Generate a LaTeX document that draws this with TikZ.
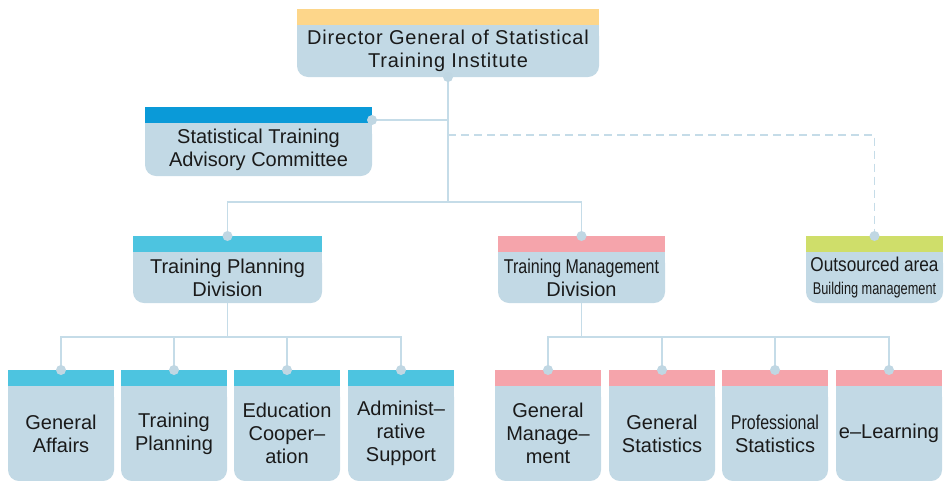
\documentclass[tikz,border=0pt]{standalone}
\usepackage{fontspec}
\setmainfont{Liberation Sans}
\newfontfamily\narrowfont[FakeStretch=0.8]{Liberation Sans}
\newfontfamily\outfont[FakeStretch=0.86]{Liberation Sans}
\newfontfamily\bldfont[FakeStretch=0.75]{Liberation Sans}
\newfontfamily\widefont[LetterSpace=4.0]{Liberation Sans}
\definecolor{bodyc}{HTML}{C2D9E5}
\definecolor{linec}{HTML}{C5DCE8}
\definecolor{dotc}{HTML}{C0D7E3}
\definecolor{yelbar}{HTML}{FDD68A}
\definecolor{bluebar}{HTML}{0A9AD8}
\definecolor{cyanbar}{HTML}{4DC4E0}
\definecolor{pinkbar}{HTML}{F5A4AB}
\definecolor{greenbar}{HTML}{CFDE6A}
\definecolor{txt}{HTML}{1A1A1A}
\tikzset{
  box/.style={rectangle, inner sep=0pt, outer sep=0pt, fill=white, align=center,
    text=txt, font=\fontsize{20}{23}\selectfont,
    path picture={
      \fill[bodyc, rounded corners=11pt] (path picture bounding box.north west) rectangle (path picture bounding box.south east);
      \fill[bodyc] (path picture bounding box.north west) rectangle (path picture bounding box.east);
    }},
  barbox/.style={rectangle, inner sep=0pt, outer sep=0pt, minimum height=16pt},
  conn/.style={draw=linec, line width=1.6pt},
  dashconn/.style={conn, dash pattern=on 8pt off 5pt},
  dot/.style={fill=dotc},
}
% name, x, y (body centre), width, body height, bar colour, text
\newcommand\orgbox[7]{%
  \node[box, minimum width=#4pt, minimum height=#5pt] (#1) at (#2,#3) {#7};
  \node[barbox, fill=#6, minimum width=#4pt, anchor=south] (#1-bar) at (#1.north) {};
}
\begin{document}
\begin{tikzpicture}[x=1pt,y=-1pt]
% top levels
\orgbox{dir}{448}{51}{302}{52}{yelbar}{{\widefont Director General of Statistical}\\{\widefont Training Institute}}
\orgbox{com}{258.5}{149.5}{227}{53}{bluebar}{Statistical Training\\Advisory Committee}
\orgbox{tpd}{227.5}{277.5}{189}{51}{cyanbar}{Training Planning\\Division}
\orgbox{tmd}{581.5}{277.5}{167}{51}{pinkbar}{{\narrowfont Training Management}\\Division}
\orgbox{out}{874.5}{277.5}{137}{51}{greenbar}{{\outfont Outsourced area}\\{\bldfont\fontsize{17}{23}\selectfont Building management}}

% bottom level
\orgbox{ga}{61}{433.5}{106}{95}{cyanbar}{General\\Affairs}
\orgbox{tp}{174}{433.5}{106}{95}{cyanbar}{Training\\Planning}
\orgbox{ec}{287}{433.5}{106}{95}{cyanbar}{Education\\Cooper–\\ation}
\orgbox{as}{401}{433.5}{106}{95}{cyanbar}{Administ–\\rative\\Support}
\orgbox{gm}{548}{433.5}{106}{95}{pinkbar}{General\\Manage–\\ment}
\orgbox{gs}{662}{433.5}{106}{95}{pinkbar}{General\\Statistics}
\orgbox{ps}{775}{433.5}{106}{95}{pinkbar}{{\narrowfont Professional}\\Statistics}
\orgbox{el}{889}{433.5}{106}{95}{pinkbar}{e–Learning}

% connectors
\coordinate (hub) at (dir.south |- 0,202);
\coordinate (comdot) at ([yshift=-5pt]com-bar.east);
\coordinate (dash0) at (dir.south |- 0,135);
\draw[conn] (dir.south) -- (hub);
\draw[conn] (comdot) -- (comdot -| dir.south);
\draw[conn] (tpd-bar.north) |- (hub) -| (tmd-bar.north);
\draw[dashconn] (dash0) -| (out-bar.north);

\coordinate (lh) at (tpd.south |- 0,337);
\draw[conn] (tpd.south) -- (lh);
\draw[conn] (ga-bar.north) |- (lh) -| (as-bar.north);
\draw[conn] (tp-bar.north) -- (tp-bar.north |- lh);
\draw[conn] (ec-bar.north) -- (ec-bar.north |- lh);

\coordinate (rh) at (tmd.south |- 0,337);
\draw[conn] (tmd.south) -- (rh);
\draw[conn] (gm-bar.north) |- (rh) -| (el-bar.north);
\draw[conn] (gs-bar.north) -- (gs-bar.north |- rh);
\draw[conn] (ps-bar.north) -- (ps-bar.north |- rh);

% dots
\foreach \n in {tpd,tmd,out,ga,tp,ec,as,gm,gs,ps,el}
  \fill[dot] (\n-bar.north) circle (5pt);
\fill[dot] (dir.south) circle (5pt);
\fill[dot] (comdot) circle (5pt);

\pgfresetboundingbox
\useasboundingbox (0,0) rectangle (947,480);
\end{tikzpicture}
\end{document}
